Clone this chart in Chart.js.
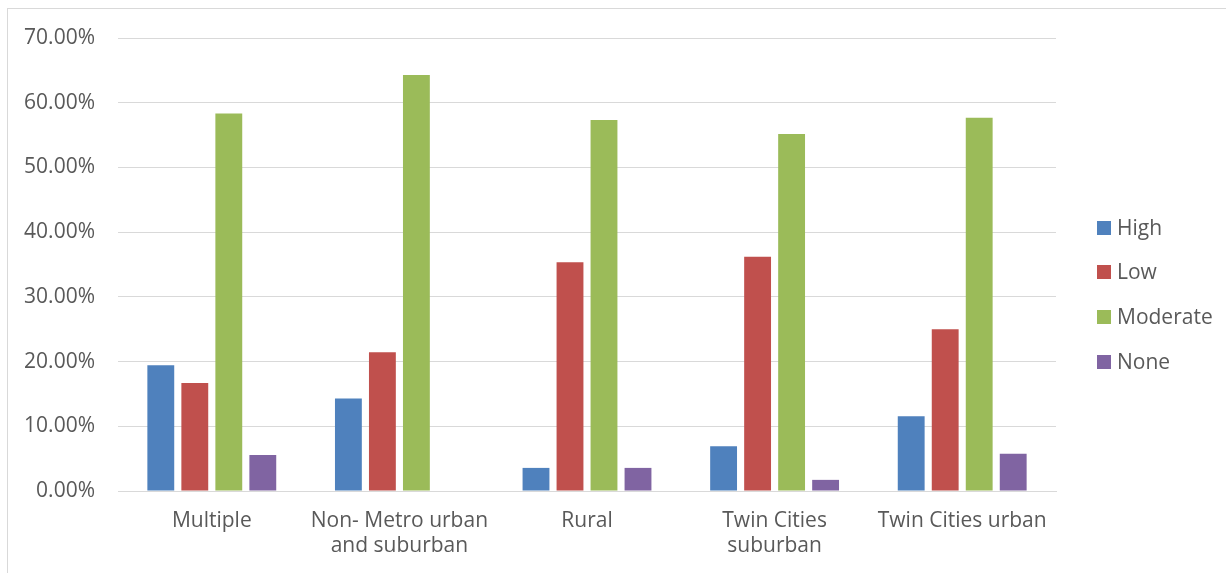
<!DOCTYPE html>
<html>
<head>
<meta charset="utf-8">
<script src="https://cdn.jsdelivr.net/npm/chart.js@4"></script>
<style>
    html, body { margin: 0; padding: 0; background: #ffffff; }
    #wrap { width: 1226px; height: 573px; position: relative; }
</style>
</head>
<body>
<div id="wrap"><canvas id="chart" width="1226" height="573"></canvas></div>
<script>
// ============================================
// DATA
// ============================================
const categories = [
    'Multiple',
    ['Non- Metro urban', 'and suburban'],
    'Rural',
    ['Twin Cities', 'suburban'],
    'Twin Cities urban'
];
const seriesNames = ['High', 'Low', 'Moderate', 'None'];
const seriesColors = ['#4f81bd', '#c0504d', '#9bbb59', '#8064a2'];

const highValues     = [0.1944, 0.1429, 0.0357, 0.0690, 0.1154];
const lowValues      = [0.1667, 0.2143, 0.3536, 0.3621, 0.2500];
const moderateValues = [0.5833, 0.6429, 0.5732, 0.5517, 0.5769];
const noneValues     = [0.0556, 0.0000, 0.0357, 0.0172, 0.0577];

const yTicks = [0, 0.1, 0.2, 0.3, 0.4, 0.5, 0.6, 0.7];

const FONT = '"Open Sans", "Liberation Sans", sans-serif';
const FONT_SIZE = 21;
const TEXT = '#595959';
const GRID = '#d9d9d9';

// ============================================
// PLUGINS
// ============================================
const frame = {
    id: 'frame',
    beforeDraw(chart) {
        const c = chart.ctx;
        c.save();
        c.strokeStyle = GRID;
        c.lineWidth = 1;
        c.strokeRect(7.5, 8.5, 1400, 1000);
        c.restore();
    }
};

const sideLegend = {
    id: 'sideLegend',
    afterDraw(chart) {
        const c = chart.ctx;
        const rows = [228, 272, 317, 362];
        c.save();
        c.font = FONT_SIZE + 'px ' + FONT;
        c.textBaseline = 'middle';
        c.textAlign = 'left';
        chart.data.datasets.forEach((ds, i) => {
            c.fillStyle = ds.backgroundColor;
            c.fillRect(1097, rows[i] - 7, 14, 14);
            c.fillStyle = TEXT;
            c.fillText(ds.label, 1117, rows[i] + 1);
        });
        c.restore();
    }
};

// ============================================
// CHART
// ============================================
const allValues = [highValues, lowValues, moderateValues, noneValues];

new Chart(document.getElementById('chart'), {
    type: 'bar',
    data: {
        labels: categories,
        datasets: seriesNames.map((name, i) => ({
            label: name,
            data: allValues[i],
            backgroundColor: seriesColors[i],
            borderWidth: 0,
            categoryPercentage: 0.725,
            barPercentage: 0.79
        }))
    },
    options: {
        responsive: false,
        animation: false,
        layout: { padding: { top: 38, right: 170, bottom: 0, left: 7 } },
        plugins: {
            legend: { display: false },
            tooltip: { enabled: false }
        },
        scales: {
            x: {
                grid: { display: false, drawTicks: false },
                border: { color: GRID, width: 1 },
                ticks: {
                    color: TEXT,
                    font: { family: FONT, size: FONT_SIZE, lineHeight: 1.2 },
                    padding: 17,
                    maxRotation: 0,
                    autoSkip: false
                },
                afterFit: s => { s.height = 82; }
            },
            y: {
                min: 0,
                max: 0.7,
                afterBuildTicks: s => { s.ticks = yTicks.map(v => ({ value: v })); },
                grid: { color: GRID, lineWidth: 1, drawTicks: false },
                border: { display: false },
                ticks: {
                    color: TEXT,
                    font: { family: FONT, size: FONT_SIZE },
                    padding: 23,
                    callback: v => (v * 100).toFixed(2) + '%'
                },
                afterFit: s => { s.width = 111; }
            }
        }
    },
    plugins: [frame, sideLegend]
});
</script>
</body>
</html>
